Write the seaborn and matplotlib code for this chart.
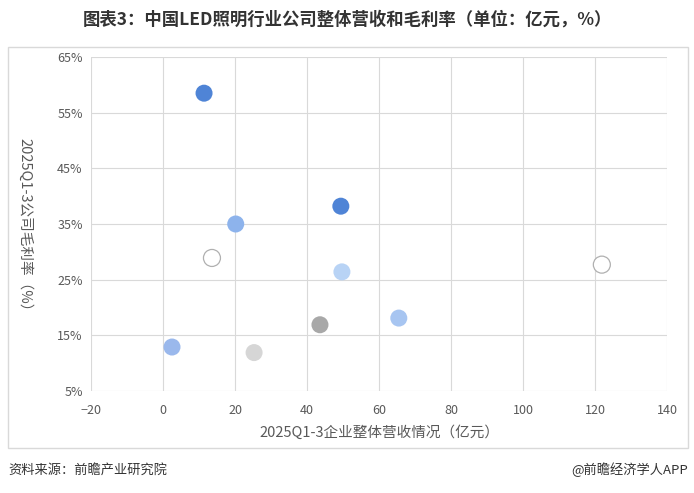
import matplotlib
matplotlib.use("Agg")
import matplotlib.pyplot as plt
import seaborn as sns
import pandas as pd
from matplotlib.patches import Rectangle
from matplotlib.ticker import FuncFormatter

# Data
revenue = [11.4, 49.4, 20.2, 13.6, 49.7, 43.6, 65.5, 2.5, 25.3, 121.9]      # 亿元
margin = [58.5, 38.2, 35.0, 28.9, 26.4, 16.9, 18.1, 12.9, 11.9, 27.7]        # %
companies = ["A", "B", "C", "D", "E", "F", "G", "H", "I", "J"]
fill_colors = ["#4f84d6", "#4f84d6", "#8db3ec", "#ffffff", "#b8d3f5",
               "#a8a8a8", "#a7c5f1", "#9ab8ec", "#d6d6d6", "#ffffff"]
edge_colors = ["none", "none", "none", "#b0b0b0", "none",
               "none", "none", "none", "none", "#b0b0b0"]

x_ticks = [-20, 0, 20, 40, 60, 80, 100, 120, 140]
y_ticks = [5, 15, 25, 35, 45, 55, 65]

df = pd.DataFrame({"revenue": revenue, "margin": margin, "company": companies})

sns.set_theme(style="white")
plt.rcParams["font.family"] = ["Noto Sans CJK SC", "DejaVu Sans"]

fig = plt.figure(figsize=(6.94, 4.93), dpi=100)
ax = fig.add_axes([91 / 694, 1 - 391 / 493, (667 - 91) / 694, (391 - 57) / 493])

# outer frame
fig.patches.append(Rectangle((8 / 694, 1 - 448 / 493), 680 / 694, 401 / 493,
                             transform=fig.transFigure, fill=False,
                             edgecolor="#d9d9d9", linewidth=1.0, zorder=0))

sns.scatterplot(data=df, x="revenue", y="margin", hue="company",
                palette=dict(zip(companies, fill_colors)), legend=False,
                s=150, edgecolor=edge_colors, linewidth=0.9, ax=ax, zorder=3)

ax.set_xlim(-20, 140)
ax.set_ylim(5, 65)
ax.set_xticks(x_ticks)
ax.set_yticks(y_ticks)
ax.yaxis.set_major_formatter(FuncFormatter(lambda v, p: f"{v:.0f}%"))
ax.grid(True, color="#d9d9d9", linewidth=0.8)
ax.set_axisbelow(True)
for s in ax.spines.values():
    s.set_visible(False)
ax.tick_params(axis="both", length=0, labelsize=9, colors="#595959")
ax.tick_params(axis="x", pad=9)
ax.tick_params(axis="y", pad=6)

ax.set_xlabel("2025Q1-3企业整体营收情况（亿元）", fontsize=10.5, color="#595959", labelpad=6)
ax.set_ylabel("")
fig.text(25 / 694, 1 - 228 / 493, "2025Q1-3公司毛利率（%）", rotation=270,
         ha="center", va="center", fontsize=10.5, color="#595959")

fig.text(0.5, 1 - 20 / 493, "图表3：中国LED照明行业公司整体营收和毛利率（单位：亿元，%）",
         ha="center", va="center", fontsize=12.5, fontweight="bold", color="#333333")
fig.text(8 / 694, 1 - 470 / 493, "资料来源：前瞻产业研究院", ha="left", va="center",
         fontsize=9.5, color="#333333")
fig.text(688 / 694, 1 - 470 / 493, "@前瞻经济学人APP", ha="right", va="center",
         fontsize=9.5, color="#333333")

fig.savefig("out.png", dpi=100)
